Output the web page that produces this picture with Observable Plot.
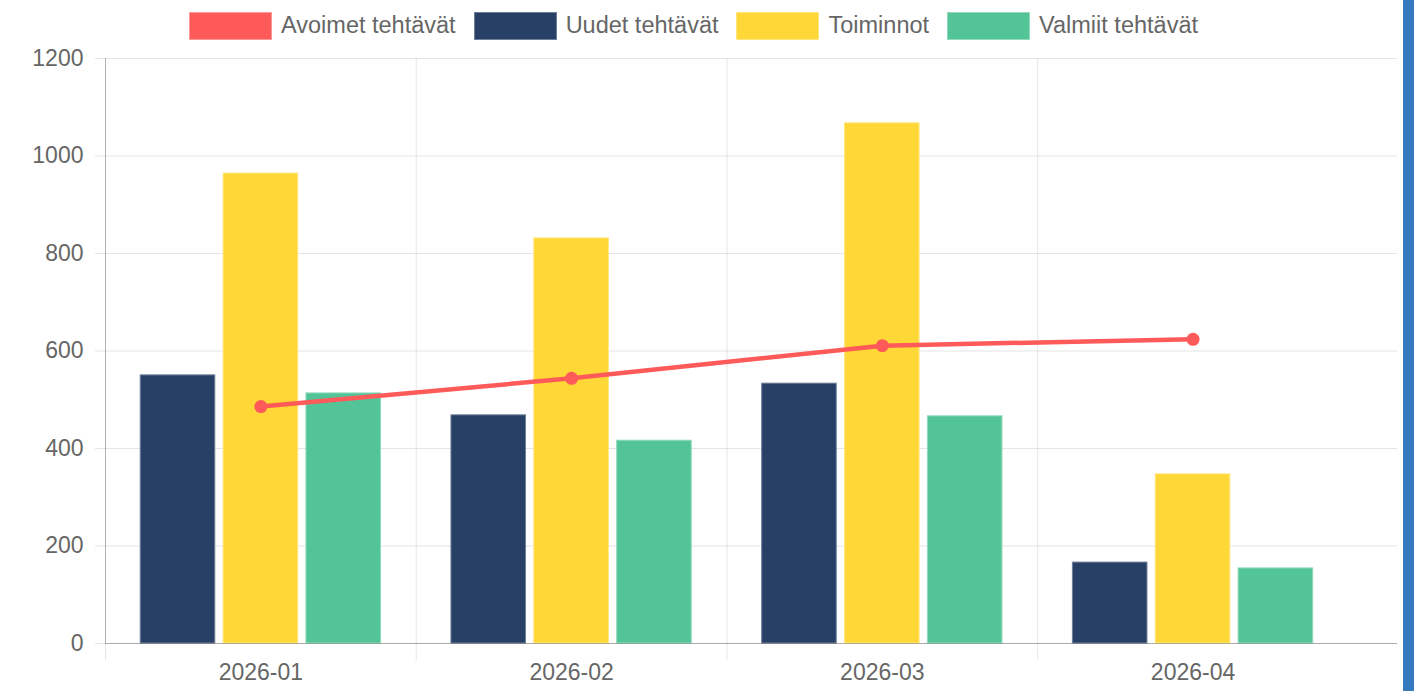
<!DOCTYPE html>
<html>
<head>
<meta charset="utf-8">
<script src="https://cdn.jsdelivr.net/npm/d3@7"></script>
<script src="https://cdn.jsdelivr.net/npm/@observablehq/plot@0.6"></script>
<style>
  html, body { margin: 0; padding: 0; background: #ffffff; }
  body { width: 1414px; height: 691px; position: relative; overflow: hidden; font-family: "Liberation Sans", Arial, sans-serif; }
  #legend { position: absolute; left: 0; top: 0; width: 1387px; height: 51px; display: flex; justify-content: center; align-items: center; }
  .item { display: flex; align-items: center; margin: 0 9px; }
  .box { width: 83px; height: 28px; box-sizing: border-box; border: 1px solid; }
  .label { margin-left: 9px; font-size: 23.5px; color: #666; white-space: nowrap; }
  #chart { position: absolute; left: 0; top: 38px; }
  #strip { position: absolute; left: 1403px; top: 0; width: 11px; height: 691px; background: #3579bf; }
</style>
</head>
<body>
<div id="legend"></div>
<div id="chart"></div>
<div id="strip"></div>
<script>
const months = ["2026-01", "2026-02", "2026-03", "2026-04"];
const avoimet = [486, 544, 611, 624];
const uudet = [550, 468, 533, 166];
const toiminnot = [964, 831, 1067, 347];
const valmiit = [513, 416, 466, 154];
const seriesNames = ["Avoimet tehtävät", "Uudet tehtävät", "Toiminnot", "Valmiit tehtävät"];
const seriesColors = ["#ff5a5a", "#283f66", "#ffd737", "#53c497"];
const borderColors = ["#ff9a9a", "#6f7f99", "#ffe680", "#92dabb"];
const yTicks = [0, 200, 400, 600, 800, 1000, 1200];

// Legend
const legend = document.getElementById("legend");
seriesNames.forEach((name, i) => {
  const it = document.createElement("div");
  it.className = "item";
  const b = document.createElement("div");
  b.className = "box";
  b.style.background = seriesColors[i];
  b.style.borderColor = borderColors[i];
  const t = document.createElement("span");
  t.className = "label";
  t.textContent = name;
  it.appendChild(b); it.appendChild(t);
  legend.appendChild(it);
});

// Bar data: group of 3 bars per month (categoryPercentage 0.8, barPercentage 0.9)
const barSeries = [uudet, toiminnot, valmiit];
const bars = [];
months.forEach((m, i) => {
  barSeries.forEach((arr, k) => {
    const slot = 0.8 / 3;
    const x1 = i + 0.1 + k * slot + slot * 0.05;
    bars.push({month: m, series: seriesNames[k + 1], value: arr[i], x1, x2: x1 + slot * 0.9, color: seriesColors[k + 1], border: borderColors[k + 1]});
  });
});
const lineData = months.map((m, i) => ({month: m, x: i + 0.5, value: avoimet[i]}));
const bounds = months.map((m, i) => i);
const centers = months.map((m, i) => i + 0.5);

const chart = Plot.plot({
  width: 1400,
  height: 653,
  marginLeft: 105,
  marginRight: 3,
  marginTop: 20,
  marginBottom: 48,
  style: {fontFamily: "'Liberation Sans', Arial, sans-serif", fontSize: "23px", background: "transparent"},
  x: {type: "linear", domain: [0, months.length * 1.0395], axis: null},
  y: {domain: [0, 1200], axis: null},
  marks: [
    Plot.gridY(yTicks, {stroke: "#000", strokeOpacity: 0.1}),
    Plot.gridX(bounds, {stroke: "#000", strokeOpacity: 0.1}),
    Plot.axisY({ticks: yTicks, tickSize: 10, tickFormat: () => "", label: null, stroke: "#000", strokeOpacity: 0.1}),
    Plot.axisY({ticks: yTicks, tickSize: 0, tickPadding: 22, label: null, tickFormat: d => String(d), color: "#666", fontSize: 23}),
    Plot.axisX({ticks: bounds, tickSize: 17, tickFormat: () => "", label: null, stroke: "#000", strokeOpacity: 0.1}),
    Plot.axisX({ticks: centers, tickSize: 0, tickPadding: 20, label: null, tickFormat: d => months[Math.floor(d)], color: "#666", fontSize: 23}),
    Plot.rectY(bars, {x1: "x1", x2: "x2", y: "value", fill: "color", stroke: "border", strokeWidth: 1}),
    Plot.ruleX([0], {stroke: "#000", strokeOpacity: 0.22}),
    Plot.ruleY([0], {stroke: "#000", strokeOpacity: 0.25}),
    Plot.line(lineData, {x: "x", y: "value", stroke: seriesColors[0], strokeWidth: 4.5}),
    Plot.dot(lineData, {x: "x", y: "value", r: 6.5, fill: seriesColors[0], stroke: "none"})
  ]
});
document.getElementById("chart").appendChild(chart);
</script>
</body>
</html>
